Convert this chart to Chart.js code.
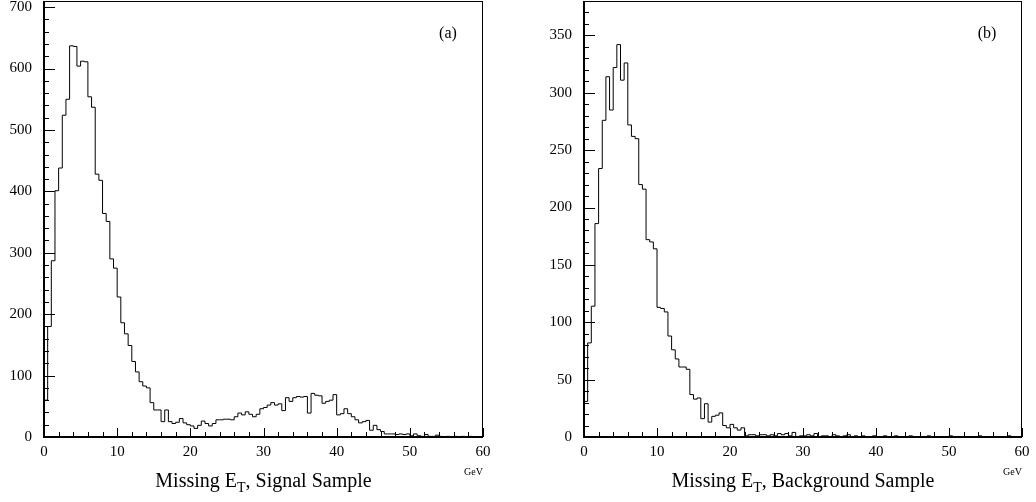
<!DOCTYPE html>
<html>
<head>
<meta charset="utf-8">
<script src="https://cdn.jsdelivr.net/npm/chart.js@4.4.0/dist/chart.umd.min.js"></script>
<style>
  body { margin: 0; background: #fff; }
  #wrap { position: relative; width: 1036px; height: 502px; }
  canvas { position: absolute; top: 0; }
</style>
</head>
<body>
<div id="wrap">
  <canvas id="chartA" width="518" height="502" style="left:0"></canvas>
  <canvas id="chartB" width="518" height="502" style="left:518px"></canvas>
</div>
<script>
// 0.5 GeV bins from 0 to 60 GeV
const binWidth = 0.5;

const signalCounts = [
  60, 180, 287, 401, 438, 524, 550, 637, 636, 604,
  612, 611, 554, 537, 428, 418, 364, 351, 290, 275,
  228, 186, 168, 149, 123, 106, 90, 83, 80, 56,
  44, 44, 25, 44, 25, 22, 24, 30, 23, 20,
  18, 14, 19, 26, 22, 18, 22, 28, 28, 29,
  29, 28, 33, 39, 36, 41, 37, 33, 37, 46,
  48, 52, 56, 52, 54, 43, 64, 58, 64, 66,
  65, 66, 39, 71, 68, 67, 55, 58, 60, 69,
  36, 38, 46, 38, 33, 28, 23, 25, 27, 11,
  19, 12, 9, 5, 5, 5, 4, 5, 4, 5,
  2, 5, 2, 1, 4, 1, 1, 3, 1, 0,
  1, 0, 1, 0, 1, 0, 1, 0, 0, 0
];

const backgroundCounts = [
  31, 82, 114, 186, 234, 276, 314, 285, 322, 342,
  311, 326, 272, 262, 260, 220, 216, 172, 170, 164,
  113, 112, 109, 88, 76, 68, 61, 61, 59, 37,
  33, 34, 16, 29, 13, 18, 19, 21, 10, 8,
  11, 8, 6, 8, 1, 2, 2, 1, 2, 2,
  1, 2, 1, 3, 2, 3, 1, 4, 0, 1,
  1, 2, 1, 3, 0, 1, 1, 0, 2, 1,
  0, 1, 2, 0, 1, 0, 1, 0, 0, 1,
  0, 0, 1, 0, 0, 1, 0, 0, 0, 1,
  0, 0, 0, 0, 1, 0, 0, 0, 0, 0,
  1, 0, 0, 0, 0, 0, 0, 0, 1, 0,
  0, 0, 0, 0, 0, 0, 1, 0, 0, 0
];

const xTickValues = [0, 10, 20, 30, 40, 50, 60];
const signalYTicks = [0, 100, 200, 300, 400, 500, 600, 700];
const backgroundYTicks = [0, 50, 100, 150, 200, 250, 300, 350];

const serif = "'Liberation Serif', 'Times New Roman', serif";

// step histogram: one point per bin left edge, plus the closing edge
function toSteps(counts) {
  const pts = counts.map((c, i) => ({ x: i * binWidth, y: c }));
  pts.push({ x: counts.length * binWidth, y: counts[counts.length - 1] });
  return pts;
}

// frame box and inward ticks, like the old PAW plots
const histFrame = {
  id: 'histFrame',
  afterDatasetsDraw(chart, args, opts) {
    const { ctx, chartArea: a, scales: { x, y } } = chart;
    ctx.save();
    ctx.strokeStyle = '#000';
    ctx.lineWidth = 1;
    ctx.strokeRect(a.left + 0.5, a.top + 0.5, a.right - a.left - 1, a.bottom - a.top - 1);

    ctx.beginPath();
    const nx = Math.round((x.max - x.min) / opts.minorX);
    for (let i = 0; i <= nx; i++) {
      const v = x.min + i * opts.minorX;
      const px = Math.round(x.getPixelForValue(v)) + 0.5;
      const len = (i % opts.majorEveryX === 0) ? 9 : 5;
      ctx.moveTo(px, a.bottom);
      ctx.lineTo(px, a.bottom - len);
    }
    const ny = Math.floor((opts.yTop - y.min) / opts.minorY);
    for (let i = 0; i <= ny; i++) {
      const v = y.min + i * opts.minorY;
      const py = Math.round(y.getPixelForValue(v)) + 0.5;
      const len = (i % opts.majorEveryY === 0) ? 11 : 5;
      ctx.moveTo(a.left, py);
      ctx.lineTo(a.left + len, py);
    }
    ctx.stroke();

    // heavier left and bottom axes
    ctx.lineWidth = 2;
    ctx.beginPath();
    ctx.moveTo(a.left, a.top);
    ctx.lineTo(a.left, a.bottom);
    ctx.lineTo(a.right, a.bottom);
    ctx.stroke();
    ctx.restore();
  },
  afterDraw(chart, args, opts) {
    const { ctx, chartArea: a } = chart;
    ctx.save();
    ctx.fillStyle = '#000';
    ctx.textBaseline = 'alphabetic';

    // axis title with subscript T
    const bigFont = '20px ' + serif;
    const subFont = '14px ' + serif;
    ctx.font = bigFont;
    const w1 = ctx.measureText(opts.before).width;
    const w3 = ctx.measureText(opts.after).width;
    ctx.font = subFont;
    const w2 = ctx.measureText('T').width;
    let tx = (a.left + a.right) / 2 - (w1 + w2 + w3) / 2;
    ctx.textAlign = 'left';
    ctx.font = bigFont;
    ctx.fillText(opts.before, tx, 487);
    tx += w1;
    ctx.font = subFont;
    ctx.fillText('T', tx, 492);
    tx += w2;
    ctx.font = bigFont;
    ctx.fillText(opts.after, tx, 487);

    // unit
    ctx.font = '10px ' + serif;
    ctx.textAlign = 'right';
    ctx.fillText('GeV', a.right, 475);

    // panel tag
    ctx.font = '16px ' + serif;
    ctx.textAlign = 'center';
    ctx.fillText(opts.tag, a.right - 35, 38);
    ctx.restore();
  }
};

function makeChart(id, counts, yTicks, yMax, axisWidth, rightPad, frameOpts) {
  return new Chart(document.getElementById(id), {
    type: 'line',
    data: {
      datasets: [{
        data: toSteps(counts),
        stepped: true,
        borderColor: '#000',
        borderWidth: 1,
        pointRadius: 0,
        fill: false
      }]
    },
    options: {
      responsive: false,
      animation: false,
      layout: { padding: { top: 1, right: rightPad, left: 0, bottom: 0 } },
      plugins: {
        legend: { display: false },
        tooltip: { enabled: false },
        histFrame: frameOpts
      },
      scales: {
        x: {
          type: 'linear',
          min: 0,
          max: 60,
          grid: { display: false, drawTicks: false },
          border: { display: false },
          afterBuildTicks: s => { s.ticks = xTickValues.map(v => ({ value: v })); },
          afterFit: s => { s.height = 65; s.paddingLeft = 0; s.paddingRight = 0; },
          ticks: {
            padding: 6,
            maxRotation: 0,
            color: '#000',
            font: { family: serif, size: 15 }
          }
        },
        y: {
          type: 'linear',
          min: 0,
          max: yMax,
          grid: { display: false, drawTicks: false },
          border: { display: false },
          afterBuildTicks: s => { s.ticks = yTicks.map(v => ({ value: v })); },
          afterFit: s => { s.width = axisWidth; s.paddingTop = 0; s.paddingBottom = 0; },
          ticks: {
            padding: 12,
            color: '#000',
            font: { family: serif, size: 15 }
          }
        }
      }
    },
    plugins: [histFrame]
  });
}

makeChart('chartA', signalCounts, signalYTicks, 710, 44, 35, {
  minorX: 2, majorEveryX: 5, minorY: 20, majorEveryY: 5, yTop: 700,
  before: 'Missing E', after: ', Signal Sample', tag: '(a)'
});

makeChart('chartB', backgroundCounts, backgroundYTicks, 380, 66, 14, {
  minorX: 2, majorEveryX: 5, minorY: 10, majorEveryY: 5, yTop: 380,
  before: 'Missing E', after: ', Background Sample', tag: '(b)'
});
</script>
</body>
</html>
